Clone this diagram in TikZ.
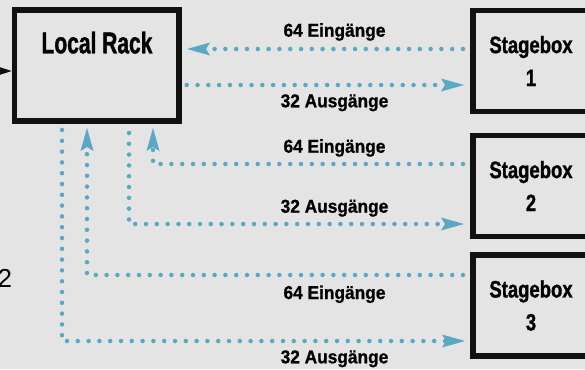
\documentclass[tikz,border=0pt]{standalone}
\usepackage{fontspec}
\usepackage{xcolor}
\usepackage{tikz}
\usetikzlibrary{arrows.meta}
\setmainfont{Liberation Sans}
\newfontfamily\rackfont[FakeStretch=0.70,FakeBold=1.2]{Liberation Sans}
\newfontfamily\stagefont[FakeStretch=0.78,FakeBold=1.2]{Liberation Sans}
\newfontfamily\linkfont[FakeStretch=0.93,FakeBold=1]{Liberation Sans}
\definecolor{bgGrey}{RGB}{228,228,228}
\definecolor{linkTeal}{RGB}{90,168,195}
\definecolor{boxBlack}{RGB}{17,17,17}

\begin{document}
\begin{tikzpicture}[x=1pt,y=1pt,yscale=-1,xscale=1,
  boxshape/.style={rectangle,draw=boxBlack,fill=bgGrey,line width=5.5pt,inner sep=0pt,outer sep=0pt},
  stagebox/.style={boxshape,minimum width=116pt,minimum height=101pt,align=center,
    font={\stagefont\bfseries\fontsize{23.7}{33}\selectfont}},
  linklabel/.style={anchor=base,font={\linkfont\bfseries\fontsize{18.6}{22}\selectfont}},
  link/.style={draw=linkTeal,line width=4.5pt,line cap=round,dash pattern=on 0pt off 10.8pt,
    -{Stealth[length=23pt,width=13pt,inset=4pt,line width=0pt]}},
  feedlink/.style={draw=boxBlack,line width=1.5pt,-{Stealth[length=14pt,width=9pt,inset=2pt,line width=0pt]}}]

\fill[bgGrey] (0,0) rectangle (585,369);
\useasboundingbox (0,0) rectangle (585,369);
\clip (0,0) rectangle (585,369);

%Shape: Rectangle [Local Rack]
\node[boxshape,minimum width=164.5pt,minimum height=111pt] (rack) at (96.75,65.5) {};
% Text Node
\node[anchor=base,font={\rackfont\bfseries\fontsize{30}{36}\selectfont}] (racklbl) at (97,53.3) {Local Rack};

%Shape: Rectangle [Stageboxes]
\node[stagebox] (sb1) at (531,61) {Stagebox\\1};
\node[stagebox] (sb2) at (531,186) {Stagebox\\2};
\node[stagebox] (sb3) at (531,305.5) {Stagebox\\3};

% Text Node
\node[anchor=base east,font={\fontsize{26}{30}\selectfont}] (vers) at (15.5,287) {72};

% rows and columns of the links
\coordinate (feed) at (-10,71);
\coordinate (in1) at (0,49);
\coordinate (out1) at (0,85);
\coordinate (in2) at (0,164);
\coordinate (out2) at (0,224);
\coordinate (in3) at (0,275);
\coordinate (out3) at (0,341);
\coordinate (colin2) at (153,0);
\coordinate (colout2) at (129,0);
\coordinate (colin3) at (87,0);
\coordinate (colout3) at (62,0);

% Connection
\draw[feedlink,shorten >=2.75pt] (feed) -- (rack.west |- feed);

% Connection
\draw[link,shorten <=10pt,shorten >=8pt] (sb1.west |- in1) -- (rack.east |- in1);
\draw[link,shorten <=7.7pt,shorten >=9pt] (rack.east |- out1) -- (sb1.west |- out1);
\draw[link,shorten <=10pt,shorten >=7pt] (sb2.west |- in2) -| (rack.south -| colin2);
\draw[link,shorten <=12pt,shorten >=9pt] (rack.south -| colout2) |- (sb2.west |- out2);
\draw[link,shorten <=10pt,shorten >=7pt] (sb3.west |- in3) -| (rack.south -| colin3);
\draw[link,shorten <=9pt,shorten >=8pt] (rack.south -| colout3) |- (sb3.west |- out3);

% Text Node
\node[linklabel] (lblin1) at (334.5,36.7) {64 Eingänge};
\node[linklabel] (lblout1) at (334.5,107.3) {32 Ausgänge};
\node[linklabel] (lblin2) at (334.5,152.7) {64 Eingänge};
\node[linklabel] (lblout2) at (334.5,212.7) {32 Ausgänge};
\node[linklabel] (lblin3) at (334.5,299) {64 Eingänge};
\node[linklabel] (lblout3) at (334.5,363.3) {32 Ausgänge};

\end{tikzpicture}
\end{document}
